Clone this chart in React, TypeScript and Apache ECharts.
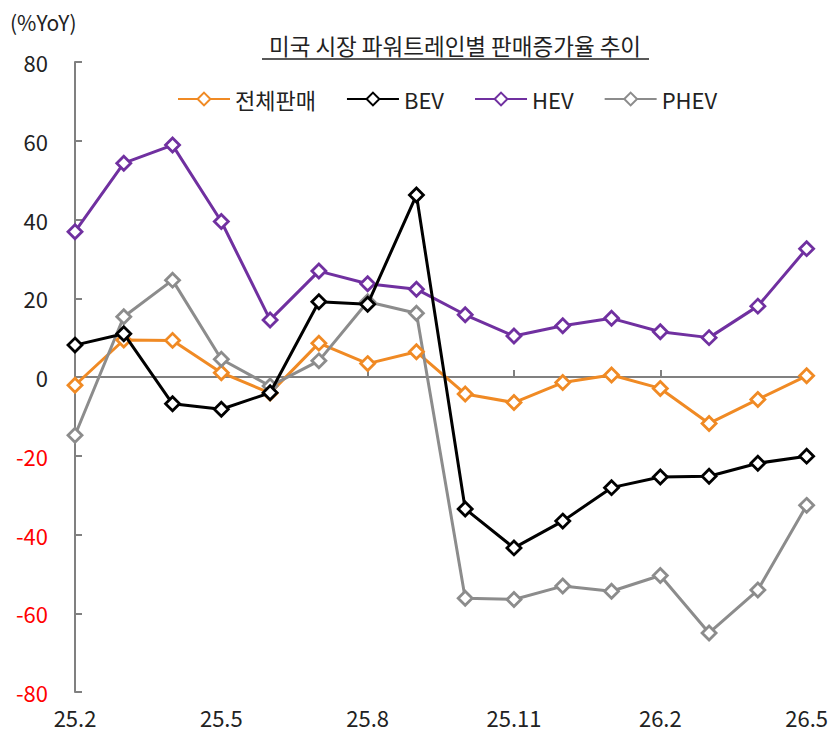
import React, { useEffect, useRef } from "react";
import * as echarts from "echarts";

const categories = ["25.2","25.3","25.4","25.5","25.6","25.7","25.8","25.9","25.10","25.11","25.12","26.1","26.2","26.3","26.4","26.5"];
const categoryLabels = ["25.2","","","25.5","","","25.8","","","25.11","","","26.2","","","26.5"];
const totalSales = [-2.1, 9.4, 9.3, 1.1, -4.1, 8.6, 3.4, 6.4, -4.3, -6.5, -1.4, 0.5, -2.9, -11.8, -5.7, 0.3];
const bev = [8.1, 11.0, -6.8, -8.2, -4.0, 19.1, 18.5, 46.2, -33.5, -43.4, -36.6, -28.1, -25.4, -25.2, -21.9, -20.1];
const hev = [36.9, 54.3, 58.9, 39.5, 14.5, 26.9, 23.7, 22.3, 15.8, 10.4, 13.0, 14.9, 11.5, 10.0, 18.0, 32.6];
const phev = [-14.8, 15.3, 24.6, 4.5, -2.3, 4.1, 19.1, 16.2, -56.2, -56.5, -53.1, -54.4, -50.4, -65.0, -54.1, -32.6];
const seriesNames = ["전체판매", "BEV", "HEV", "PHEV"];
const titleText = "미국 시장 파워트레인별 판매증가율 추이";
const unitText = "(%YoY)";

const FONT = "'Noto Sans CJK KR', 'Noto Sans', sans-serif";

export default function App() {
  const ref = useRef<HTMLDivElement>(null);
  useEffect(() => {
    if (!ref.current) return;
    const chart = echarts.init(ref.current, undefined, { renderer: "svg" });
    const colors = ["#F08A24", "#000000", "#7030A0", "#8C8C8C"];
    const data = [totalSales, bev, hev, phev];
    const series = data.map((d, i) => ({
      name: seriesNames[i],
      type: "line",
      xAxisIndex: 0,
      data: d,
      symbol: "diamond",
      symbolSize: 14,
      showAllSymbol: true,
      z: 10 - (i === 0 ? 3 : i),
      lineStyle: { color: colors[i], width: 3 },
      itemStyle: { color: "#ffffff", borderColor: colors[i], borderWidth: 2.8 },
    }));
    chart.setOption({
      animation: false,
      backgroundColor: "#ffffff",
      textStyle: { fontFamily: FONT },
      legend: {
        left: 172,
        top: 83,
        itemWidth: 52,
        itemHeight: 16,
        itemGap: 30,
        textStyle: { fontSize: 22, color: "#222", fontFamily: FONT },
        data: seriesNames,
      },
      grid: { left: 75, right: 24, top: 62, bottom: 42 },
      xAxis: [
        {
          type: "category",
          data: categories,
          boundaryGap: false,
          axisLine: { onZero: true, lineStyle: { color: "#808080", width: 2 } },
          axisTick: { show: true, inside: true, length: 7, interval: 2, lineStyle: { color: "#808080", width: 2 } },
          axisLabel: { show: false },
          splitLine: { show: false },
        },
        {
          type: "category",
          data: categoryLabels,
          boundaryGap: false,
          position: "bottom",
          axisLine: { show: false, onZero: false },
          axisTick: { show: false },
          axisLabel: { show: true, interval: 0, margin: 14, fontSize: 22, color: "#222", fontFamily: FONT },
          splitLine: { show: false },
        },
      ],
      yAxis: {
        type: "value",
        min: -80,
        max: 80,
        interval: 20,
        axisLine: { show: true, lineStyle: { color: "#808080", width: 2 } },
        axisTick: { show: true, inside: true, length: 7, lineStyle: { color: "#808080", width: 2 } },
        splitLine: { show: false },
        axisLabel: {
          margin: 27,
          fontSize: 22,
          fontFamily: FONT,
          color: (v: any) => (Number(v) < 0 ? "#FF0000" : "#222222"),
        },
      },
      graphic: [
        {
          type: "text",
          left: 10,
          top: 11,
          style: { text: unitText, fontSize: 21, fill: "#222", fontFamily: FONT },
        },
        {
          type: "text",
          x: 455,
          y: 45,
          style: { text: titleText, fontSize: 22.5, fill: "#222", fontFamily: FONT, align: "center", verticalAlign: "middle" },
        },
        {
          type: "line",
          shape: { x1: 262, y1: 59, x2: 649, y2: 59 },
          style: { stroke: "#222", lineWidth: 1.5 },
        },
      ],
      series,
    });
    return () => chart.dispose();
  }, []);
  return (
    <div
      ref={ref}
      style={{ position: "fixed", left: 0, top: 0, width: 831, height: 734, background: "#fff" }}
    />
  );
}
